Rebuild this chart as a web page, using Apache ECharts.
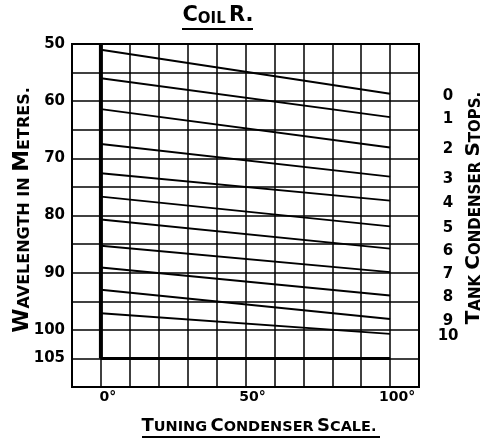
<!DOCTYPE html>
<html>
<head>
<meta charset="utf-8">
<script src="https://cdn.jsdelivr.net/npm/echarts@6/dist/echarts.min.js"></script>
<style>
html,body{margin:0;padding:0;background:#fff;}
#c{width:486px;height:441px;}
</style>
</head>
<body>
<div id="c"></div>
<script>
// ---- data ----
const tuningRange = [0, 100];              // tuning condenser scale, degrees
const stopNames = ['0','1','2','3','4','5','6','7','8','9','10'];
const wavelengthAt0 = [51.0, 56.0, 61.4, 67.5, 72.6, 76.7, 80.7, 85.3, 89.1, 93.0, 97.1];
const wavelengthAt100 = [58.7, 62.8, 68.1, 73.2, 77.4, 81.9, 85.8, 89.9, 94.0, 98.1, 100.7];
const xTickLabels = [0, 50, 100];
const yTickLabels = [50, 60, 70, 80, 90, 100, 105];
const baseWavelength = 105;
const topWavelength = 50;

const FONT = 'DejaVu Sans';
const series = [];
stopNames.forEach((name, i) => {
  series.push({
    type: 'line', name: name, symbol: 'none', silent: true,
    lineStyle: {color: '#000', width: 1.9},
    data: [[tuningRange[0], wavelengthAt0[i]], [tuningRange[1], wavelengthAt100[i]]],
    endLabel: {show: true, formatter: name, distance: 58, align: 'center', verticalAlign: 'middle',
      color: '#000', fontFamily: FONT, fontWeight: 'bold', fontSize: 15, offset: [0, 2]}
  });
});
series.push({type: 'line', symbol: 'none', silent: true, lineStyle: {color: '#000', width: 4},
  data: [[tuningRange[0], topWavelength], [tuningRange[0], baseWavelength]]});
series.push({type: 'line', symbol: 'none', silent: true, lineStyle: {color: '#000', width: 3},
  data: [[tuningRange[0], baseWavelength], [tuningRange[1], baseWavelength]]});

const chart = echarts.init(document.getElementById('c'));
const bigS = {fontFamily: FONT, fontWeight: 'bold', color: '#000', verticalAlign: 'bottom'};
chart.setOption({
  animation: false,
  backgroundColor: '#fff',
  grid: {left: 72, right: 67, top: 44, bottom: 54, show: true, borderColor: '#000', borderWidth: 2},
  xAxis: {
    type: 'value', min: -10, max: 110, interval: 10,
    axisLine: {show: false}, axisTick: {show: false},
    splitLine: {show: true, lineStyle: {color: '#000', width: 1.5}},
    axisLabel: {
      margin: 3, color: '#000', fontFamily: FONT, fontWeight: 'bold', fontSize: 14,
      padding: [0, 0, 0, 14],
      formatter: v => xTickLabels.includes(v) ? v + '°' : ''
    }
  },
  yAxis: {
    type: 'value', inverse: true, min: 50, max: 110, interval: 5,
    axisLine: {show: false}, axisTick: {show: false},
    splitLine: {show: true, lineStyle: {color: '#000', width: 1.5}},
    axisLabel: {
      margin: 7, color: '#000', fontFamily: FONT, fontWeight: 'bold', fontSize: 15,
      formatter: v => yTickLabels.includes(v) ? String(v) : ''
    }
  },
  graphic: [
    {type: 'text', x: 218, y: 16, style: {
      text: '{b|C}{s|OIL} {b|R.}', align: 'center', verticalAlign: 'middle',
      rich: {b: Object.assign({fontSize: 21}, bigS), s: Object.assign({fontSize: 15}, bigS)}}},
    {type: 'line', shape: {x1: 182, y1: 29, x2: 253, y2: 29}, style: {stroke: '#000', lineWidth: 2}},
    {type: 'text', x: 259, y: 426, style: {
      text: '{b|T}{s|UNING} {b|C}{s|ONDENSER} {b|S}{s|CALE.}', align: 'center', verticalAlign: 'middle',
      rich: {b: Object.assign({fontSize: 18}, bigS), s: Object.assign({fontSize: 14.5}, bigS)}}},
    {type: 'line', shape: {x1: 142, y1: 437, x2: 380, y2: 437}, style: {stroke: '#000', lineWidth: 2}},
    {type: 'text', x: 22, y: 210, rotation: Math.PI / 2, style: {
      text: '{b|W}{s|AVELENGTH IN }{b|M}{s|ETRES.}', align: 'center', verticalAlign: 'middle',
      rich: {b: Object.assign({fontSize: 22}, bigS), s: Object.assign({fontSize: 16}, bigS)}}},
    {type: 'text', x: 474, y: 208, rotation: Math.PI / 2, style: {
      text: '{b|T}{s|ANK }{b|C}{s|ONDENSER }{b|S}{s|TOPS.}', align: 'center', verticalAlign: 'middle',
      rich: {b: Object.assign({fontSize: 20}, bigS), s: Object.assign({fontSize: 15}, bigS)}}}
  ],
  series: series
});
</script>
</body>
</html>
